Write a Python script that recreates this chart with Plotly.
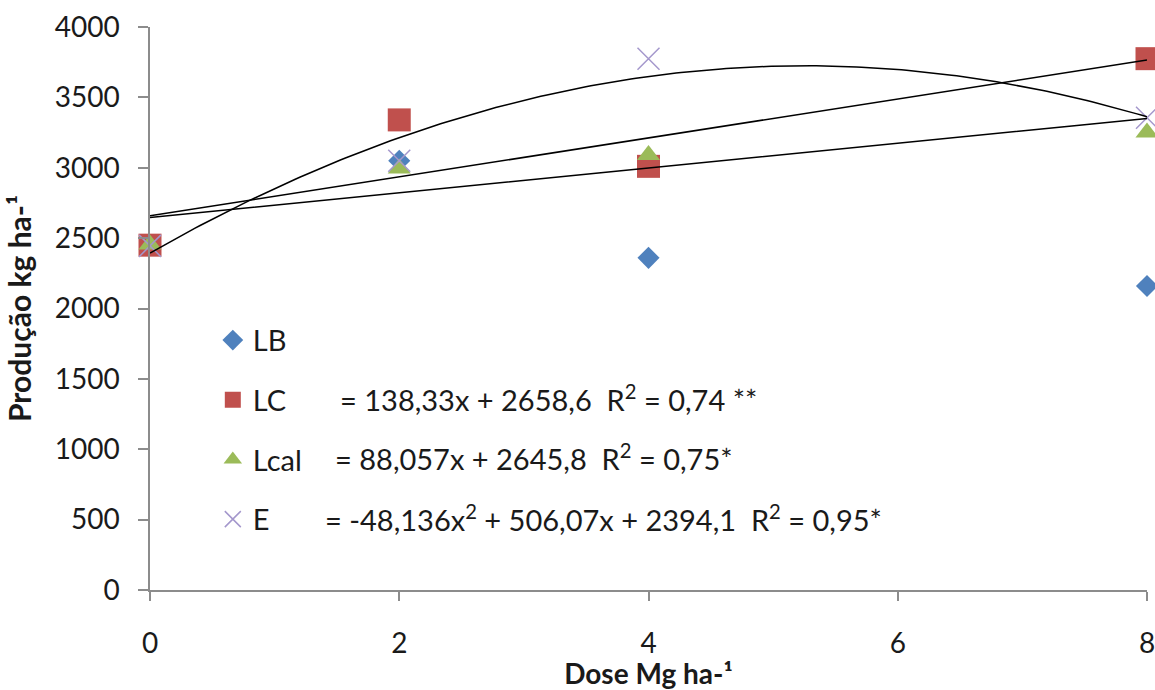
import numpy as np
import plotly.graph_objects as go

# ---- data ----
dose = [0, 2, 4, 8]
lb = [2450, 3050, 2360, 2160]
lc = [2450, 3340, 3010, 3775]
lcal = [2455, 2995, 3090, 3250]
e = [2445, 3050, 3775, 3355]

# trend-line coefficients as printed in the chart (highest power first)
lc_coef = [138.33, 2658.6]
lcal_coef = [88.057, 2645.8]
e_coef = [-48.136, 506.07, 2394.1]

eq_lc = "= 138,33x + 2658,6  R<sup>2</sup> = 0,74 **"
eq_lcal = "= 88,057x + 2645,8  R<sup>2</sup> = 0,75*"
eq_e = "= -48,136x<sup>2</sup> + 506,07x + 2394,1  R<sup>2</sup> = 0,95*"

x_ticks = [0, 2, 4, 6, 8]
y_ticks = list(range(0, 4001, 500))

FONT = "Lato, sans-serif"
TXT = "#1a1a1a"
AX = "#8c8c8c"

fig = go.Figure()

series = [
    ("LB", lb, dict(symbol="diamond", size=17, color="#4F81BD")),
    ("LC", lc, dict(symbol="square", size=23, color="#C0504D")),
    ("Lcal", lcal, dict(symbol="triangle-up", size=20, color="#9BBB59")),
    ("E", e, dict(symbol="x-thin-open", size=22, color="#A497CC",
                  line=dict(color="#A497CC", width=1.5))),
]
for i, (name, vals, mk) in enumerate(series):
    fig.add_trace(go.Scatter(
        x=dose, y=vals, mode="markers", name=name, marker=mk,
        legendgroup=f"g{i}", cliponaxis=False,
    ))

xs = np.linspace(0, 8, 200)
for coef in (lc_coef, lcal_coef, e_coef):
    fig.add_trace(go.Scatter(
        x=xs, y=np.polyval(coef, xs), mode="lines", showlegend=False,
        line=dict(color="black", width=1.5), hoverinfo="skip",
    ))

for txt, xx, yy in ((eq_lc, 1.51, 1364), (eq_lcal, 1.469, 945), (eq_e, 1.388, 512)):
    fig.add_annotation(x=xx, y=yy, xref="x", yref="y", text=txt, showarrow=False,
                       xanchor="left", yanchor="middle",
                       font=dict(family=FONT, size=29, color=TXT))

fig.update_layout(
    width=1155, height=690,
    margin=dict(l=150, r=8, t=27, b=100),
    paper_bgcolor="white", plot_bgcolor="white",
    font=dict(family=FONT, size=28, color=TXT),
    legend=dict(x=0.063, y=0.489, xanchor="left", yanchor="top",
                bgcolor="rgba(0,0,0,0)", tracegroupgap=19,
                font=dict(family=FONT, size=29, color=TXT)),
    xaxis=dict(range=[0, 8], tickvals=x_ticks, showgrid=False, zeroline=False,
               showline=True, linecolor=AX, linewidth=1.5, automargin=False,
               ticks="outside", ticklen=9, tickcolor=AX, tickwidth=1.5,
               ticklabelstandoff=19, ticklabeloverflow="allow",
               tickfont=dict(family=FONT, size=28, color=TXT),
               title=dict(text="<b>Dose Mg ha-¹</b>", standoff=3,
                          font=dict(family=FONT, size=28, color=TXT))),
    yaxis=dict(range=[0, 4000], tickvals=y_ticks, showgrid=False, zeroline=False,
               showline=True, linecolor=AX, linewidth=1.5, automargin=False,
               ticks="outside", ticklen=10, tickcolor=AX, tickwidth=1.5,
               ticklabelstandoff=13, ticklabeloverflow="allow",
               tickfont=dict(family=FONT, size=28, color=TXT),
               title=dict(text="<b>Produção kg ha-¹</b>", standoff=14,
                          font=dict(family=FONT, size=30, color=TXT))),
)

fig.write_html("out.html", config={"displayModeBar": False},
               post_script="document.body.style.margin='0';")
